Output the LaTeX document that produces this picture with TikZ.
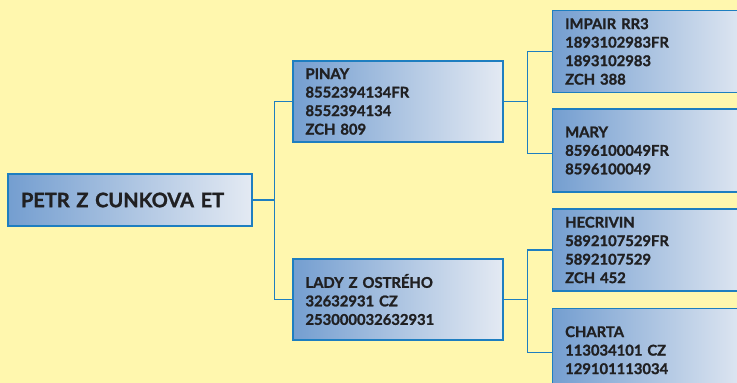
\documentclass[tikz,border=0pt]{standalone}
\usepackage{fontspec}
\setmainfont{Lato}[BoldFeatures={FakeBold=1.3}]
\definecolor{bgyellow}{RGB}{255,247,174}
\definecolor{edgeblue}{RGB}{30,126,192}
\definecolor{shadeL}{RGB}{116,158,208}
\definecolor{shadeM}{RGB}{172,197,229}
\definecolor{shadeR}{RGB}{228,234,243}
\definecolor{txt}{RGB}{32,32,34}
\tikzset{
  x=1pt, y=-1pt,
  pedbox/.style={draw=edgeblue, line width=1.4pt, left color=shadeL, middle color=shadeM, right color=shadeR,
    rectangle, align=left, inner xsep=12.5pt, inner ysep=0pt, text=txt,
    font=\fontsize{14.8}{18.5}\selectfont\bfseries},
  midbox/.style={pedbox, text width=185pt, minimum height=81pt},
  farbox/.style={pedbox, text width=175pt, minimum height=82pt},
  link/.style={draw=edgeblue, line width=1.4pt}
}
\begin{document}
\begin{tikzpicture}
\useasboundingbox (0,0) rectangle (737,383);
\clip (0,0) rectangle (737,383);
\fill[bgyellow] (0,0) rectangle (737,383);
\node[pedbox, text width=218pt, minimum height=52pt, inner xsep=13pt, font=\fontsize{20}{22}\selectfont\bfseries] (root) at (130,200) {PETR Z CUNKOVA ET};
\node[midbox] (pinay) at (398,101.5) {PINAY\\8552394134FR\\8552394134\\ZCH 809};
\node[midbox] (lady) at (398,299.5) {LADY Z OSTRÉHO\\32632931 CZ\\253000032632931};
\node[farbox, anchor=west] (impair) at (552,51.5) {IMPAIR RR3\\1893102983FR\\1893102983\\ZCH 388};
\node[farbox, anchor=west, minimum height=83pt] (mary) at (552,150.5) {MARY\\8596100049FR\\8596100049};
\node[farbox, anchor=west] (hecrivin) at (552,250) {HECRIVIN\\5892107529FR\\5892107529\\ZCH 452};
\node[farbox, anchor=north west, minimum height=83pt] (charta) at (552,308) {CHARTA\\113034101 CZ\\129101113034};
\draw[link] (root.east) -- ++(22,0) coordinate (j1) |- (pinay.west);
\draw[link] (j1) |- (lady.west);
\draw[link] (pinay.east) -- ++(24,0) coordinate (j2) |- (impair.west);
\draw[link] (j2) |- ([yshift=-3pt]mary.west);
\draw[link] (lady.east) -- ++(24,0) coordinate (j3) |- (hecrivin.west);
\draw[link] (j3) |- ([yshift=-2.5pt]charta.west);
\end{tikzpicture}
\end{document}
